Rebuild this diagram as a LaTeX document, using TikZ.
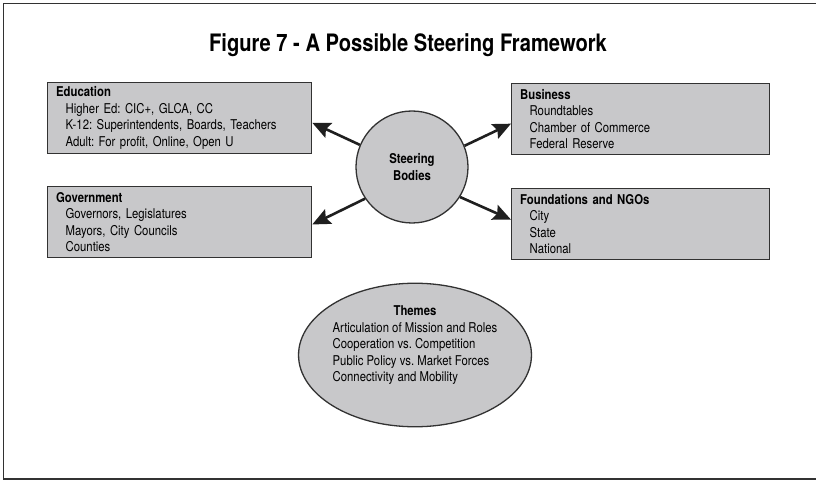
\documentclass[tikz,border=0pt]{standalone}
\usepackage{fontspec}
\setmainfont{TeX Gyre Heros}[FakeStretch=0.84]
\frenchspacing
\usetikzlibrary{shapes.geometric,arrows.meta}
\definecolor{boxfill}{RGB}{200,200,202}
\definecolor{boxline}{RGB}{50,50,50}
\tikzset{
    every node/.style={inner sep=0pt, font=\fontsize{13.5}{16.5}\selectfont}
}
\tikzset{
    box/.style={rectangle, draw=boxline, fill=boxfill, line width=1.3pt,
    	anchor=north west, align=left, inner xsep=8.5pt, minimum height=71pt}
}
\tikzset{
    every edge/.append style={line width=2.6pt, draw=black!88,
    	-{Stealth[length=18pt,width=16pt,inset=3pt]}}
}

\begin{document}
\begin{tikzpicture}[x=1pt,y=-1pt]
	\useasboundingbox (0,0) rectangle (816,481);
	\draw[line width=1.5pt, draw=boxline] (3.5,3.5) rectangle (822,479);

	\node (0) [anchor=base, font=\fontsize{24}{28}\selectfont\bfseries] at (408,52)
		{Figure 7 - A Possible Steering Framework};

	\node (1) [circle, draw=boxline, fill=boxfill, line width=1.3pt,
		minimum size=112pt, align=center, font=\fontsize{13.5}{17}\selectfont\bfseries]
		at (412,167) {Steering\\Bodies};

	\node (2) [box, text width=247pt] at (47,82) {\textbf{Education}\\
		\hspace*{9.5pt}Higher Ed: CIC+, GLCA, CC\\
		\hspace*{9.5pt}K-12: Superintendents, Boards, Teachers\\
		\hspace*{9.5pt}Adult: For profit, Online, Open U};
	\node (3) [box, text width=247pt] at (47,186) {\textbf{Government}\\
		\hspace*{9.5pt}Governors, Legislatures\\
		\hspace*{9.5pt}Mayors, City Councils\\
		\hspace*{9.5pt}Counties};
	\node (4) [box, text width=241pt] at (511,83) {\textbf{Business}\\
		\hspace*{9.5pt}Roundtables\\
		\hspace*{9.5pt}Chamber of Commerce\\
		\hspace*{9.5pt}Federal Reserve};
	\node (5) [box, text width=241pt] at (511,188) {\textbf{Foundations and NGOs}\\
		\hspace*{9.5pt}City\\
		\hspace*{9.5pt}State\\
		\hspace*{9.5pt}National};

	\node (6) [ellipse, draw=boxline, fill=boxfill, line width=1.3pt,
		minimum width=227pt, minimum height=140pt] at (415,355)
		{\begin{tabular}{@{}l@{}}
		\multicolumn{1}{@{}c@{}}{\textbf{Themes}}\\
		Articulation of Mission and Roles\\
		Cooperation vs. Competition\\
		Public Policy vs. Market Forces\\
		Connectivity and Mobility\\[19pt]
		\end{tabular}};

	\draw (1.157) edge (2.-2.4); \draw (1.214) edge (3.-1.5);
	\draw (1.22) edge (4.182); \draw (1.-32) edge (5.178);
\end{tikzpicture}
\end{document}
